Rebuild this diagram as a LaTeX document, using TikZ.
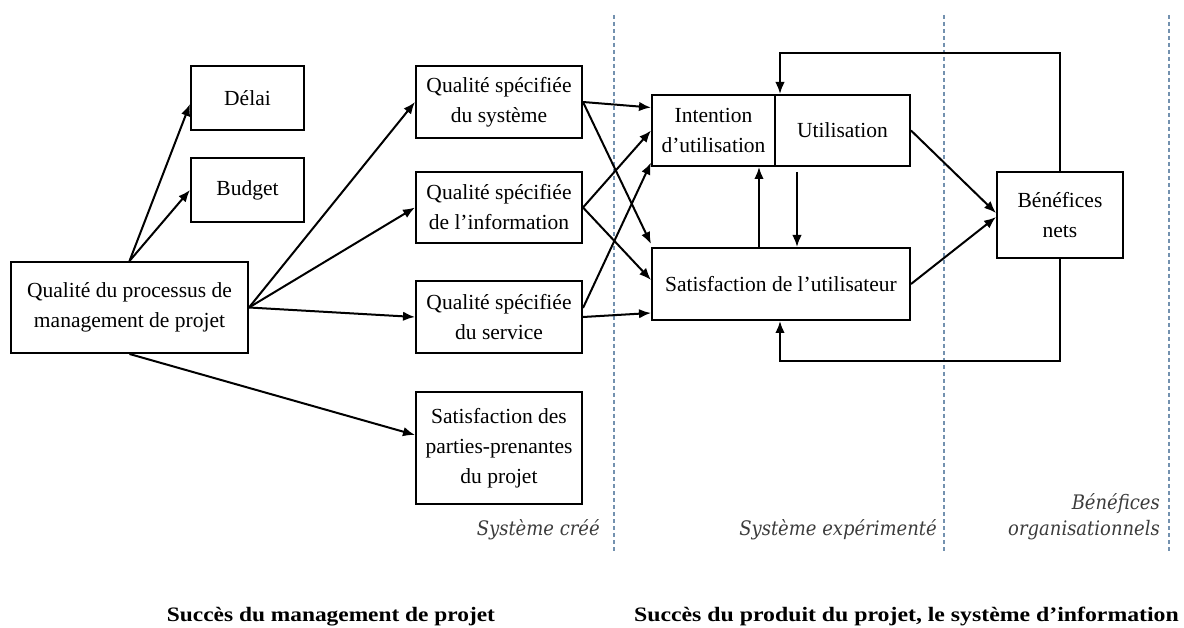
\documentclass[tikz,border=0pt]{standalone}
\usepackage{fontspec}
\setmainfont{Liberation Serif}
\newfontfamily\zonefont{DejaVu Serif Condensed}
\usetikzlibrary{arrows.meta}

\definecolor{zoneblue}{RGB}{115,145,175}
\definecolor{zonegray}{RGB}{60,60,60}

\tikzset{
  box/.style={draw, line width=2pt, align=center, inner sep=0pt,
              font=\fontsize{21.5}{30}\selectfont},
  arr/.style={line width=2pt, -{Latex[length=12pt,width=9.5pt]}},
  zone/.style={draw=zoneblue, line width=1.1pt, dash pattern=on 4pt off 3pt},
  zonelabel/.style={font=\zonefont\itshape\fontsize{20}{26}\selectfont,
                    text=zonegray, anchor=base east, inner sep=0pt},
  title/.style={font=\bfseries\fontsize{20.5}{24}\selectfont,
                anchor=base, inner sep=0pt}
}

\begin{document}
\begin{tikzpicture}[x=1pt,y=-1pt]
\useasboundingbox (0,0) rectangle (1184,628);
\fill[white] (0,0) rectangle (1184,628);

% zone separators
\draw[zone] (614,15) -- (614,552);
\draw[zone] (944,15) -- (944,552);
\draw[zone] (1169,15) -- (1169,552);

% project management side
\node[box, minimum width=113pt, minimum height=64pt] (delai) at (247.5,98) {Délai};
\node[box, minimum width=113pt, minimum height=64pt] (budget) at (247.5,190) {Budget};
\node[box, minimum width=237pt, minimum height=91pt] (qpm) at (129.5,307.5)
  {Qualité du processus de\\management de projet};

% created system
\node[box, minimum width=166pt, minimum height=72pt] (qsys) at (499,102)
  {Qualité spécifiée\\du système};
\node[box, minimum width=166pt, minimum height=71pt] (qinfo) at (499,207.5)
  {Qualité spécifiée\\de l’information};
\node[box, minimum width=166pt, minimum height=72pt] (qserv) at (499,317)
  {Qualité spécifiée\\du service};
\node[box, minimum width=166pt, minimum height=112pt] (spp) at (499,448)
  {Satisfaction des\\parties-prenantes\\du projet};

% experienced system
\node[box, minimum width=123pt, minimum height=71pt] (inten) at (713.5,130.5)
  {Intention\\d’utilisation};
\node[box, minimum width=135pt, minimum height=71pt] (util) at (842.5,130.5)
  {Utilisation};
\node[box, minimum width=258pt, minimum height=72pt] (sat) at (781,284)
  {Satisfaction de l’utilisateur};

% organisational benefits
\node[box, minimum width=126pt, minimum height=86pt] (ben) at (1060,215)
  {Bénéfices\\nets};

% connectors from the management process
\draw[arr] (qpm.north) -- ([yshift=-6pt]delai.west);
\draw[arr] (qpm.north) -- (budget.west);
\draw[arr] (qpm.east) -- (qsys.west);
\draw[arr] (qpm.east) -- (qinfo.west);
\draw[arr] (qpm.east) -- (qserv.west);
\draw[arr] (qpm.south) -- ([yshift=13pt]spp.west);

% quality dimensions to use and satisfaction
\draw[arr] (qsys.east) -- ([yshift=23pt]inten.west);
\draw[arr] (qsys.east) -- ([yshift=3pt]sat.north west);
\draw[arr] (qinfo.east) -- (inten.west);
\draw[arr] (qinfo.east) -- ([yshift=4pt]sat.west);
\draw[arr] ([yshift=9pt]qserv.east) -- ([yshift=-32pt]inten.west);
\draw[arr] (qserv.east) -- ([yshift=-29pt]sat.west);

% use <-> satisfaction
\coordinate (upx) at (759,0);
\draw[arr] (sat.north -| upx) -- (inten.south -| upx);
\coordinate (dn0) at (797,172);
\draw[arr] (dn0) -- (sat.north -| dn0);

% towards net benefits
\draw[arr] (util.east) -- ([yshift=2pt]ben.west);
\draw[arr] (sat.east) -- ([yshift=-2pt]ben.west);

% feedback loops
\coordinate (loopT) at (780,53);
\coordinate (loopB) at (780,361);
\draw[arr] (ben.north) |- (loopT) -- (loopT |- util.north);
\draw[arr] (ben.south) |- (loopB) -- (loopB |- sat.south);

% zone labels
\node[zonelabel] (z1) at (600,535) {Système créé};
\node[zonelabel] (z2) at (937,535) {Système expérimenté};
\node[zonelabel] (z3a) at (1160,509) {Bénéfices};
\node[zonelabel] (z3b) at (1160,535) {organisationnels};

% titles
\node[title] (t1) at (331,621) {\scalebox{1.14}[1]{Succès du management de projet}};
\node[title] (t2) at (906.5,621) {\scalebox{1.16}[1]{Succès du produit du projet, le système d’information}};
\end{tikzpicture}
\end{document}
